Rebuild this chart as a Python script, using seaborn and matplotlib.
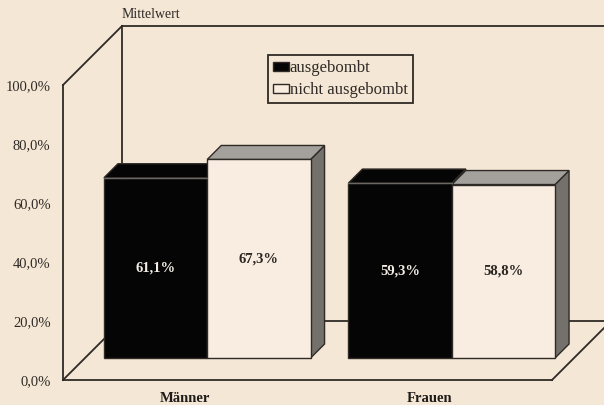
import matplotlib
matplotlib.use("Agg")
import matplotlib.pyplot as plt
import matplotlib.transforms as mtransforms
from matplotlib.patches import Polygon, Patch
import seaborn as sns
import pandas as pd

# --- data -------------------------------------------------------------
groups = ["Männer", "Frauen"]
status = ["ausgebombt", "nicht ausgebombt"]
values_ausgebombt = [61.1, 59.3]
values_nicht_ausgebombt = [67.3, 58.8]
y_ticks = [0, 20, 40, 60, 80, 100]
y_tick_labels = ["0,0%", "20,0%", "40,0%", "60,0%", "80,0%", "100,0%"]
axis_title = "Mittelwert"

df = pd.DataFrame({
    "Geschlecht": groups * 2,
    "Status": [status[0]] * 2 + [status[1]] * 2,
    "Wert": values_ausgebombt + values_nicht_ausgebombt,
})

# --- style ------------------------------------------------------------
BG = "#f5e7d5"
CREAM = "#f8ede0"
BLACK = "#050505"
INK = "#2f2a26"
TOP_GREY = "#a4a19d"
SIDE_GREY = "#74716d"

sns.set_theme(style="white")
plt.rcParams["font.family"] = ["Liberation Serif", "DejaVu Serif"]

W, H = 604, 405
fig = plt.figure(figsize=(W / 100, H / 100), dpi=100, facecolor=BG)
ax = fig.add_axes([63 / W, 25 / H, 489 / W, 295 / H])
ax.set_facecolor(BG)
ax.patch.set_visible(False)

sns.barplot(data=df, x="Geschlecht", y="Wert", hue="Status",
            hue_order=status, order=groups,
            palette=[BLACK, CREAM], saturation=1, width=0.845,
            edgecolor=INK, linewidth=1.0, legend=False, ax=ax, errorbar=None)

ax.set_xlim(-0.5, 1.5)
ax.set_ylim(0, 100)
for s in ax.spines.values():
    s.set_visible(False)
ax.set_xlabel("")
ax.set_ylabel("")

# pixel -> data scale for the oblique depth axis
sx = 489 / 2.0
sy = 295 / 100.0


def depth(d):
    return d / sx, d / sy


# --- walls and floor --------------------------------------------------
Dx, Dy = depth(59)
x0w = -0.5
x1w = 1.5
xfar = 2.1
wall_lines = [
    ([x0w, x0w], [0, 100]),
    ([x0w, x0w + Dx], [100, 100 + Dy]),
    ([x0w + Dx, x0w + Dx], [Dy, 100 + Dy]),
    ([x0w + Dx, xfar], [100 + Dy, 100 + Dy]),
    ([x0w, x0w + Dx], [0, Dy]),
    ([x0w, x1w], [0, 0]),
    ([x1w, x1w + Dx], [0, Dy]),
    ([x0w + Dx, xfar], [Dy, Dy]),
]
for xs, ys in wall_lines:
    ax.plot(xs, ys, color=INK, lw=1.3, clip_on=False, zorder=1,
            solid_capstyle="projecting")

# --- 3D bars ----------------------------------------------------------
front_d = 22
back_d = 36
fdx, fdy = depth(front_d)
bdx, bdy = depth(back_d)
shift = mtransforms.ScaledTranslation(front_d / 100, front_d / 100,
                                      fig.dpi_scale_trans)
bar_trans = ax.transData + shift

for ci, container in enumerate(ax.containers):
    top_col = BLACK if ci == 0 else TOP_GREY
    side_col = BLACK if ci == 0 else SIDE_GREY
    for bar in container:
        x0 = bar.get_x()
        x1 = x0 + bar.get_width()
        h = bar.get_height()
        side = Polygon([(x1 + fdx, fdy), (x1 + fdx, h + fdy),
                        (x1 + bdx, h + bdy), (x1 + bdx, bdy)],
                       closed=True, facecolor=side_col, edgecolor=INK,
                       lw=1.0, zorder=3, clip_on=False)
        top = Polygon([(x0 + fdx, h + fdy), (x1 + fdx, h + fdy),
                       (x1 + bdx, h + bdy), (x0 + bdx, h + bdy)],
                      closed=True, facecolor=top_col, edgecolor=INK,
                      lw=1.0, zorder=3, clip_on=False)
        ax.add_patch(side)
        ax.add_patch(top)
        bar.set_transform(bar_trans)
        bar.set_zorder(4)
        bar.set_clip_on(False)
        if ci == 0:
            ax.plot([x0 + fdx, x1 + fdx], [h + fdy, h + fdy], color="#6a6662",
                    lw=1.0, zorder=4.5, clip_on=False)

# value labels in the middle of each bar
for ci, container in enumerate(ax.containers):
    vals = values_ausgebombt if ci == 0 else values_nicht_ausgebombt
    col = "#f2ece4" if ci == 0 else "#2a2622"
    for bar, v in zip(container, vals):
        xc = bar.get_x() + bar.get_width() / 2
        ax.text(xc, v / 2, f"{v:.1f}%".replace(".", ","), transform=bar_trans,
                ha="center", va="center", fontsize=10.5, fontweight="bold",
                color=col, zorder=6)

# --- axes text --------------------------------------------------------
ax.set_yticks(y_ticks)
ax.set_yticklabels(y_tick_labels)
ax.tick_params(axis="y", length=0, pad=9, labelsize=10.5, labelcolor=INK)
ax.tick_params(axis="x", length=0, pad=9, labelsize=10.5, labelcolor="#1e1b18")
for lab in ax.get_xticklabels():
    lab.set_fontweight("bold")

fig.text(122 / W, 1 - 14 / H, axis_title, ha="left", va="center",
         fontsize=10, color=INK)

handles = [Patch(facecolor=BLACK, edgecolor=INK, lw=1.0),
           Patch(facecolor=CREAM, edgecolor=INK, lw=1.0)]
leg = ax.legend(handles, status, loc="upper left",
                bbox_to_anchor=(268 / W, 1 - 55 / H),
                bbox_transform=fig.transFigure, frameon=True, fancybox=False,
                edgecolor=INK, facecolor=BG, framealpha=1,
                handlelength=0.95, handleheight=0.45, handletextpad=0.05,
                borderpad=0.3, labelspacing=0.38, borderaxespad=0,
                prop={"size": 12})
leg.get_frame().set_linewidth(1.3)
for t in leg.get_texts():
    t.set_color(INK)
leg.set_zorder(10)

fig.savefig("out.png", dpi=100, facecolor=BG)
